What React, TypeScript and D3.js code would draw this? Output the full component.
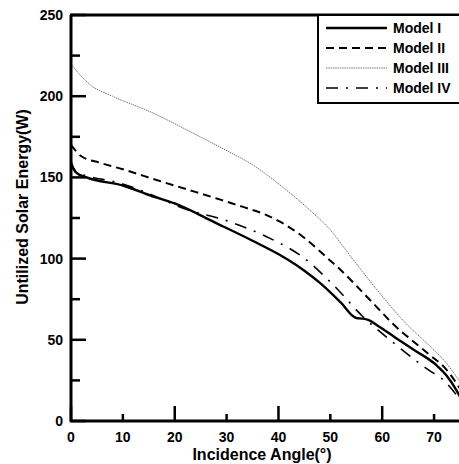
import React from "react";
import * as d3 from "d3";

const xTicksMajor = [0, 20, 40, 60];
const xTicksMinor = [10, 30, 50, 70];
const xTickLabels = [0, 10, 20, 30, 40, 50, 60, 70];
const yTicksMajor = [0, 50, 100, 150, 200, 250];
const yTicksMinor = [25, 75, 125, 175, 225];

const modelIX = [0, 1, 3, 10, 15.2, 20, 28.1, 35, 40.3, 44.8, 48, 52, 55, 56.3, 57.3, 59, 62.7, 66, 70.4, 72.4, 74.3, 75];
const modelIY = [158, 153, 150, 145, 139, 134, 121.7, 111, 102.2, 93, 85, 73, 63.4, 63, 62.2, 59, 51, 44, 34.5, 28, 19, 15];
const modelIIX = [0, 2, 5.6, 10, 16.5, 22, 28.1, 33, 37.7, 40.3, 44.7, 49.9, 52, 56.3, 59.5, 62, 66, 69.2, 72, 75];
const modelIIY = [170, 163, 159, 155, 148.4, 143, 137, 132, 126.8, 122.7, 113.5, 99, 93, 79, 68.3, 60, 49, 40.6, 33, 20];
const modelIIIX = [0, 1.5, 3.7, 8, 15.2, 24.9, 30.6, 34.5, 40.3, 42.2, 46, 49.9, 54, 59.5, 64, 69.2, 72.4, 75];
const modelIIIY = [220, 214, 207, 200, 190.5, 175, 165.5, 158.8, 145.3, 140.4, 130, 118, 101, 78.8, 62, 46, 35.5, 24];
const modelIVX = [0, 1, 3, 10, 15, 21.6, 30.6, 37.7, 44.8, 50.6, 56.3, 62, 68.5, 72.4, 75];
const modelIVY = [160, 153, 151, 146, 140, 131, 122.7, 113.5, 100.6, 83.7, 64.2, 48.6, 32.4, 23.4, 13];

const seriesNames = ["Model I", "Model II", "Model III", "Model IV"];

const styles = [
  { stroke: "#000", width: 2.4, dash: "none" },
  { stroke: "#000", width: 2, dash: "8,5" },
  { stroke: "#777", width: 1, dash: "1.5,0.8" },
  { stroke: "#000", width: 1.6, dash: "12,8,2,8" },
];

export default function App() {
  const x = d3.scaleLinear().domain([0, 75]).range([71, 460]);
  const y = d3.scaleLinear().domain([0, 250]).range([421, 15]);
  const line = d3
    .line<[number, number]>()
    .x((d) => x(d[0]))
    .y((d) => y(d[1]))
    .curve(d3.curveMonotoneX);
  const series = [
    d3.zip(modelIX, modelIY),
    d3.zip(modelIIX, modelIIY),
    d3.zip(modelIIIX, modelIIIY),
    d3.zip(modelIVX, modelIVY),
  ] as [number, number][][];
  const font = "'Liberation Sans', Arial, sans-serif";
  return (
    <svg
      width={459}
      height={464}
      style={{ position: "absolute", left: 0, top: 0, background: "#fff" }}
      fontFamily={font}
    >
      <rect width={459} height={464} fill="#fff" />
      {series.map((s, i) => (
        <path
          key={i}
          d={line(s) || ""}
          fill="none"
          stroke={styles[i].stroke}
          strokeWidth={styles[i].width}
          strokeDasharray={styles[i].dash}
        />
      ))}
      {/* axes */}
      <line x1={71} y1={15} x2={71} y2={422} stroke="#000" strokeWidth={3} />
      <line x1={70} y1={421} x2={460} y2={421} stroke="#000" strokeWidth={3} />
      <line x1={70} y1={15} x2={460} y2={15} stroke="#000" strokeWidth={3} />
      {yTicksMajor.map((t) => (
        <g key={"ym" + t}>
          <line x1={71} x2={86} y1={y(t)} y2={y(t)} stroke="#000" strokeWidth={2.5} />
          <text x={63} y={y(t)} dy="0.35em" textAnchor="end" fontSize={14} fontWeight="bold">
            {t}
          </text>
        </g>
      ))}
      {yTicksMinor.map((t) => (
        <line key={"yn" + t} x1={71} x2={80} y1={y(t)} y2={y(t)} stroke="#000" strokeWidth={2.5} />
      ))}
      {xTicksMajor.map((t) => (
        <line key={"xm" + t} x1={x(t)} x2={x(t)} y1={421} y2={406} stroke="#000" strokeWidth={2.5} />
      ))}
      {xTicksMinor.map((t) => (
        <line key={"xn" + t} x1={x(t)} x2={x(t)} y1={421} y2={414} stroke="#000" strokeWidth={2.5} />
      ))}
      {xTickLabels.map((t) => (
        <text key={"xl" + t} x={x(t)} y={442} textAnchor="middle" fontSize={14} fontWeight="bold">
          {t}
        </text>
      ))}
      <text x={262} y={460} textAnchor="middle" fontSize={16} fontWeight="bold">
        Incidence Angle(°)
      </text>
      <text
        transform="translate(28,207) rotate(-90)"
        textAnchor="middle"
        fontSize={16}
        fontWeight="bold"
      >
        Untilized Solar Energy(W)
      </text>
      {/* legend */}
      <rect x={318} y={15} width={145} height={88} fill="#fff" stroke="#000" strokeWidth={2} />
      {seriesNames.map((n, i) => (
        <g key={n}>
          <line
            x1={326}
            x2={387}
            y1={28 + i * 20}
            y2={28 + i * 20}
            stroke={styles[i].stroke}
            strokeWidth={styles[i].width}
            strokeDasharray={styles[i].dash}
          />
          <text x={393} y={28 + i * 20} dy="0.35em" fontSize={14} fontWeight="bold">
            {n}
          </text>
        </g>
      ))}
    </svg>
  );
}
